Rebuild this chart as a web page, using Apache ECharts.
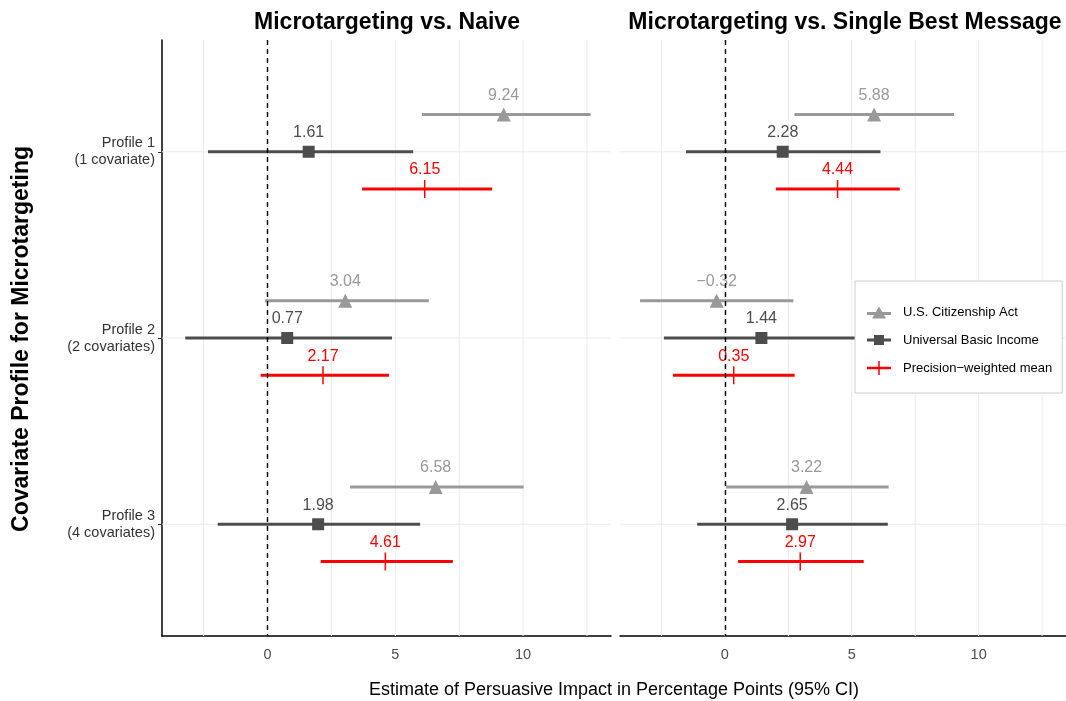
<!DOCTYPE html>
<html>
<head>
<meta charset="utf-8">
<script src="https://cdn.jsdelivr.net/npm/echarts@6/dist/echarts.min.js"></script>
<style>
  html, body { margin: 0; padding: 0; background: #fff; }
  #chart { width: 1066px; height: 701px; }
</style>
</head>
<body>
<div id="chart"></div>
<script>
// profiles on the y axis (1 = top)
const profiles = [1, 2, 3];
const profileLabels = ['Profile 1\n(1 covariate)', 'Profile 2\n(2 covariates)', 'Profile 3\n(4 covariates)'];
const panelTitles = ['Microtargeting vs. Naive', 'Microtargeting vs. Single Best Message'];
const seriesNames = ['U.S. Citizenship Act', 'Universal Basic Income', 'Precision−weighted mean'];
const xTickLabels = [0, 5, 10];
const gridX = [-2.5, 0, 2.5, 5, 7.5, 10, 12.5];

// panel 1: vs. Naive
const naiveCitizenEst = [9.24, 3.04, 6.58];
const naiveCitizenLow = [6.04, -0.10, 3.23];
const naiveCitizenHigh = [12.64, 6.31, 10.02];
const naiveUbiEst = [1.61, 0.77, 1.98];
const naiveUbiLow = [-2.33, -3.22, -1.95];
const naiveUbiHigh = [5.70, 4.87, 5.97];
const naivePooledEst = [6.15, 2.17, 4.61];
const naivePooledLow = [3.70, -0.27, 2.08];
const naivePooledHigh = [8.79, 4.75, 7.25];

// panel 2: vs. Single Best Message
const bestCitizenEst = [5.88, -0.32, 3.22];
const bestCitizenLow = [2.74, -3.34, 0.05];
const bestCitizenHigh = [9.03, 2.70, 6.45];
const bestUbiEst = [2.28, 1.44, 2.65];
const bestUbiLow = [-1.53, -2.40, -1.09];
const bestUbiHigh = [6.13, 5.30, 6.42];
const bestPooledEst = [4.44, 0.35, 2.97];
const bestPooledLow = [2.01, -2.04, 0.52];
const bestPooledHigh = [6.89, 2.75, 5.47];

const FONT = '"Liberation Sans", Arial, Helvetica, sans-serif';
const colors = ['#999999', '#4d4d4d', '#ff0000'];
const offsets = [-0.2, 0, 0.2];

const fmt = v => v.toFixed(2).replace('-', '\u2212');

function renderBar(params, api) {
  const a = api.coord([api.value(0), api.value(2)]);
  const b = api.coord([api.value(1), api.value(2)]);
  return {
    type: 'line',
    shape: { x1: a[0], y1: a[1], x2: b[0], y2: b[1] },
    style: { stroke: api.visual('color'), lineWidth: 3 }
  };
}

function renderVGrid(params, api) {
  const p = api.coord([api.value(0), 1]);
  const cs = params.coordSys;
  return {
    type: 'line',
    shape: { x1: p[0], y1: cs.y, x2: p[0], y2: cs.y + cs.height },
    style: { stroke: '#ebebeb', lineWidth: 1 }
  };
}

function renderHGrid(params, api) {
  const p = api.coord([0, api.value(1)]);
  const cs = params.coordSys;
  return {
    type: 'line',
    shape: { x1: cs.x, y1: p[1], x2: cs.x + cs.width, y2: p[1] },
    style: { stroke: '#ebebeb', lineWidth: 1 }
  };
}

const symbols = ['triangle', 'rect', 'path://M0,0h1v10h-1z'];
const symbolSizes = [14, 12, [1.5, 18]];
const labelDist = [4, 5, 2];

function groupSeries(axisIndex, k, est, low, high) {
  const pts = profiles.map((p, i) => [est[i], p + offsets[k]]);
  const bars = profiles.map((p, i) => [low[i], high[i], p + offsets[k]]);
  return [
    {
      name: seriesNames[k],
      type: 'scatter',
      xAxisIndex: axisIndex,
      yAxisIndex: axisIndex,
      z: 4,
      symbol: symbols[k],
      symbolSize: symbolSizes[k],
      itemStyle: { color: colors[k], opacity: 1 },
      label: {
        show: true,
        position: 'top',
        distance: labelDist[k],
        color: colors[k],
        fontSize: 16,
        fontFamily: FONT,
        formatter: p => fmt(p.value[0])
      },
      emphasis: { disabled: true },
      data: pts
    },
    {
      name: seriesNames[k],
      type: 'custom',
      xAxisIndex: axisIndex,
      yAxisIndex: axisIndex,
      z: 3,
      renderItem: renderBar,
      itemStyle: { color: colors[k] },
      encode: { x: [0, 1], y: 2 },
      data: bars
    }
  ];
}

function panelBackground(axisIndex) {
  return [
    {
      type: 'custom',
      xAxisIndex: axisIndex,
      yAxisIndex: axisIndex,
      z: 1,
      silent: true,
      renderItem: renderVGrid,
      encode: { x: 0, y: 1 },
      data: gridX.map(v => [v, 1])
    },
    {
      type: 'custom',
      xAxisIndex: axisIndex,
      yAxisIndex: axisIndex,
      z: 1,
      silent: true,
      renderItem: renderHGrid,
      encode: { x: 0, y: 1 },
      data: profiles.map(p => [0, p])
    },
    {
      type: 'line',
      xAxisIndex: axisIndex,
      yAxisIndex: axisIndex,
      z: 6,
      data: [],
      markLine: {
        silent: true,
        symbol: 'none',
        label: { show: false },
        lineStyle: { color: '#000', type: [5, 4], width: 1.4 },
        data: [{ xAxis: 0 }]
      }
    }
  ];
}

const chart = echarts.init(document.getElementById('chart'));

const xAxisBase = {
  type: 'value',
  min: -4.13,
  max: 13.44,
  splitLine: { show: false },
  axisTick: { show: false },
  axisLine: { show: true, onZero: false, lineStyle: { color: '#000', width: 1.5 } },
  axisLabel: {
    customValues: xTickLabels,
    color: '#4d4d4d',
    fontSize: 14.5,
    fontFamily: FONT,
    margin: 11
  }
};

const yAxisBase = {
  type: 'value',
  min: 0.4,
  max: 3.6,
  inverse: true,
  splitLine: { show: false }
};

const options = {
  backgroundColor: '#fff',
  animation: false,
  title: [
    { text: panelTitles[0], left: 382, top: 6, textAlign: 'center',
      textStyle: { fontFamily: FONT, fontSize: 23, fontWeight: 'bold', color: '#000' } },
    { text: panelTitles[1], left: 840, top: 6, textAlign: 'center',
      textStyle: { fontFamily: FONT, fontSize: 23, fontWeight: 'bold', color: '#000' } }
  ],
  grid: [
    { left: 162, top: 40, width: 449, height: 596 },
    { left: 620, top: 40, width: 449, height: 596 }
  ],
  xAxis: [
    Object.assign({ gridIndex: 0 }, xAxisBase),
    Object.assign({ gridIndex: 1 }, xAxisBase)
  ],
  yAxis: [
    Object.assign({ gridIndex: 0 }, yAxisBase, {
      axisLine: { show: true, onZero: false, lineStyle: { color: '#000', width: 1.5 } },
      axisTick: { show: true, customValues: profiles, length: 4, lineStyle: { color: '#333' } },
      axisLabel: {
        customValues: profiles,
        formatter: v => profileLabels[Math.round(v) - 1],
        color: '#333',
        fontSize: 14.5,
        lineHeight: 17,
        fontFamily: FONT,
        margin: 7
      }
    }),
    Object.assign({ gridIndex: 1 }, yAxisBase, {
      axisLine: { show: false },
      axisTick: { show: false },
      axisLabel: { show: false }
    })
  ],
  legend: {
    orient: 'vertical',
    left: 855,
    top: 281,
    itemWidth: 24,
    itemHeight: 14,
    itemGap: 14.5,
    padding: [25, 10, 18, 12],
    backgroundColor: '#fff',
    borderColor: '#cccccc',
    borderWidth: 1,
    borderRadius: 0,
    selectedMode: false,
    textStyle: { fontFamily: FONT, fontSize: 13, color: '#000', padding: [0, 0, 0, 7] },
    data: [
      { name: seriesNames[0], icon: 'path://M0,5.5h24v3h-24z M12,0L19,12L5,12z' },
      { name: seriesNames[1], icon: 'path://M0,5.5h24v3h-24z M7,2h10v10h-10z' },
      { name: seriesNames[2], icon: 'path://M0,5.75h24v2.5h-24z M11.25,0h1.5v14h-1.5z' }
    ]
  },
  graphic: [
    {
      type: 'text',
      rotation: Math.PI / 2,
      x: 22, y: 339,
      style: {
        text: 'Covariate Profile for Microtargeting',
        font: 'bold 23px ' + FONT,
        fill: '#000',
        align: 'center',
        verticalAlign: 'middle'
      }
    },
    {
      type: 'text',
      x: 614, y: 690,
      style: {
        text: 'Estimate of Persuasive Impact in Percentage Points (95% CI)',
        font: '18px ' + FONT,
        fill: '#000',
        align: 'center',
        verticalAlign: 'middle'
      }
    }
  ],
  series: [].concat(
    panelBackground(0),
    panelBackground(1),
    groupSeries(0, 0, naiveCitizenEst, naiveCitizenLow, naiveCitizenHigh),
    groupSeries(0, 1, naiveUbiEst, naiveUbiLow, naiveUbiHigh),
    groupSeries(0, 2, naivePooledEst, naivePooledLow, naivePooledHigh),
    groupSeries(1, 0, bestCitizenEst, bestCitizenLow, bestCitizenHigh),
    groupSeries(1, 1, bestUbiEst, bestUbiLow, bestUbiHigh),
    groupSeries(1, 2, bestPooledEst, bestPooledLow, bestPooledHigh)
  )
};

chart.setOption(options);
</script>
</body>
</html>
